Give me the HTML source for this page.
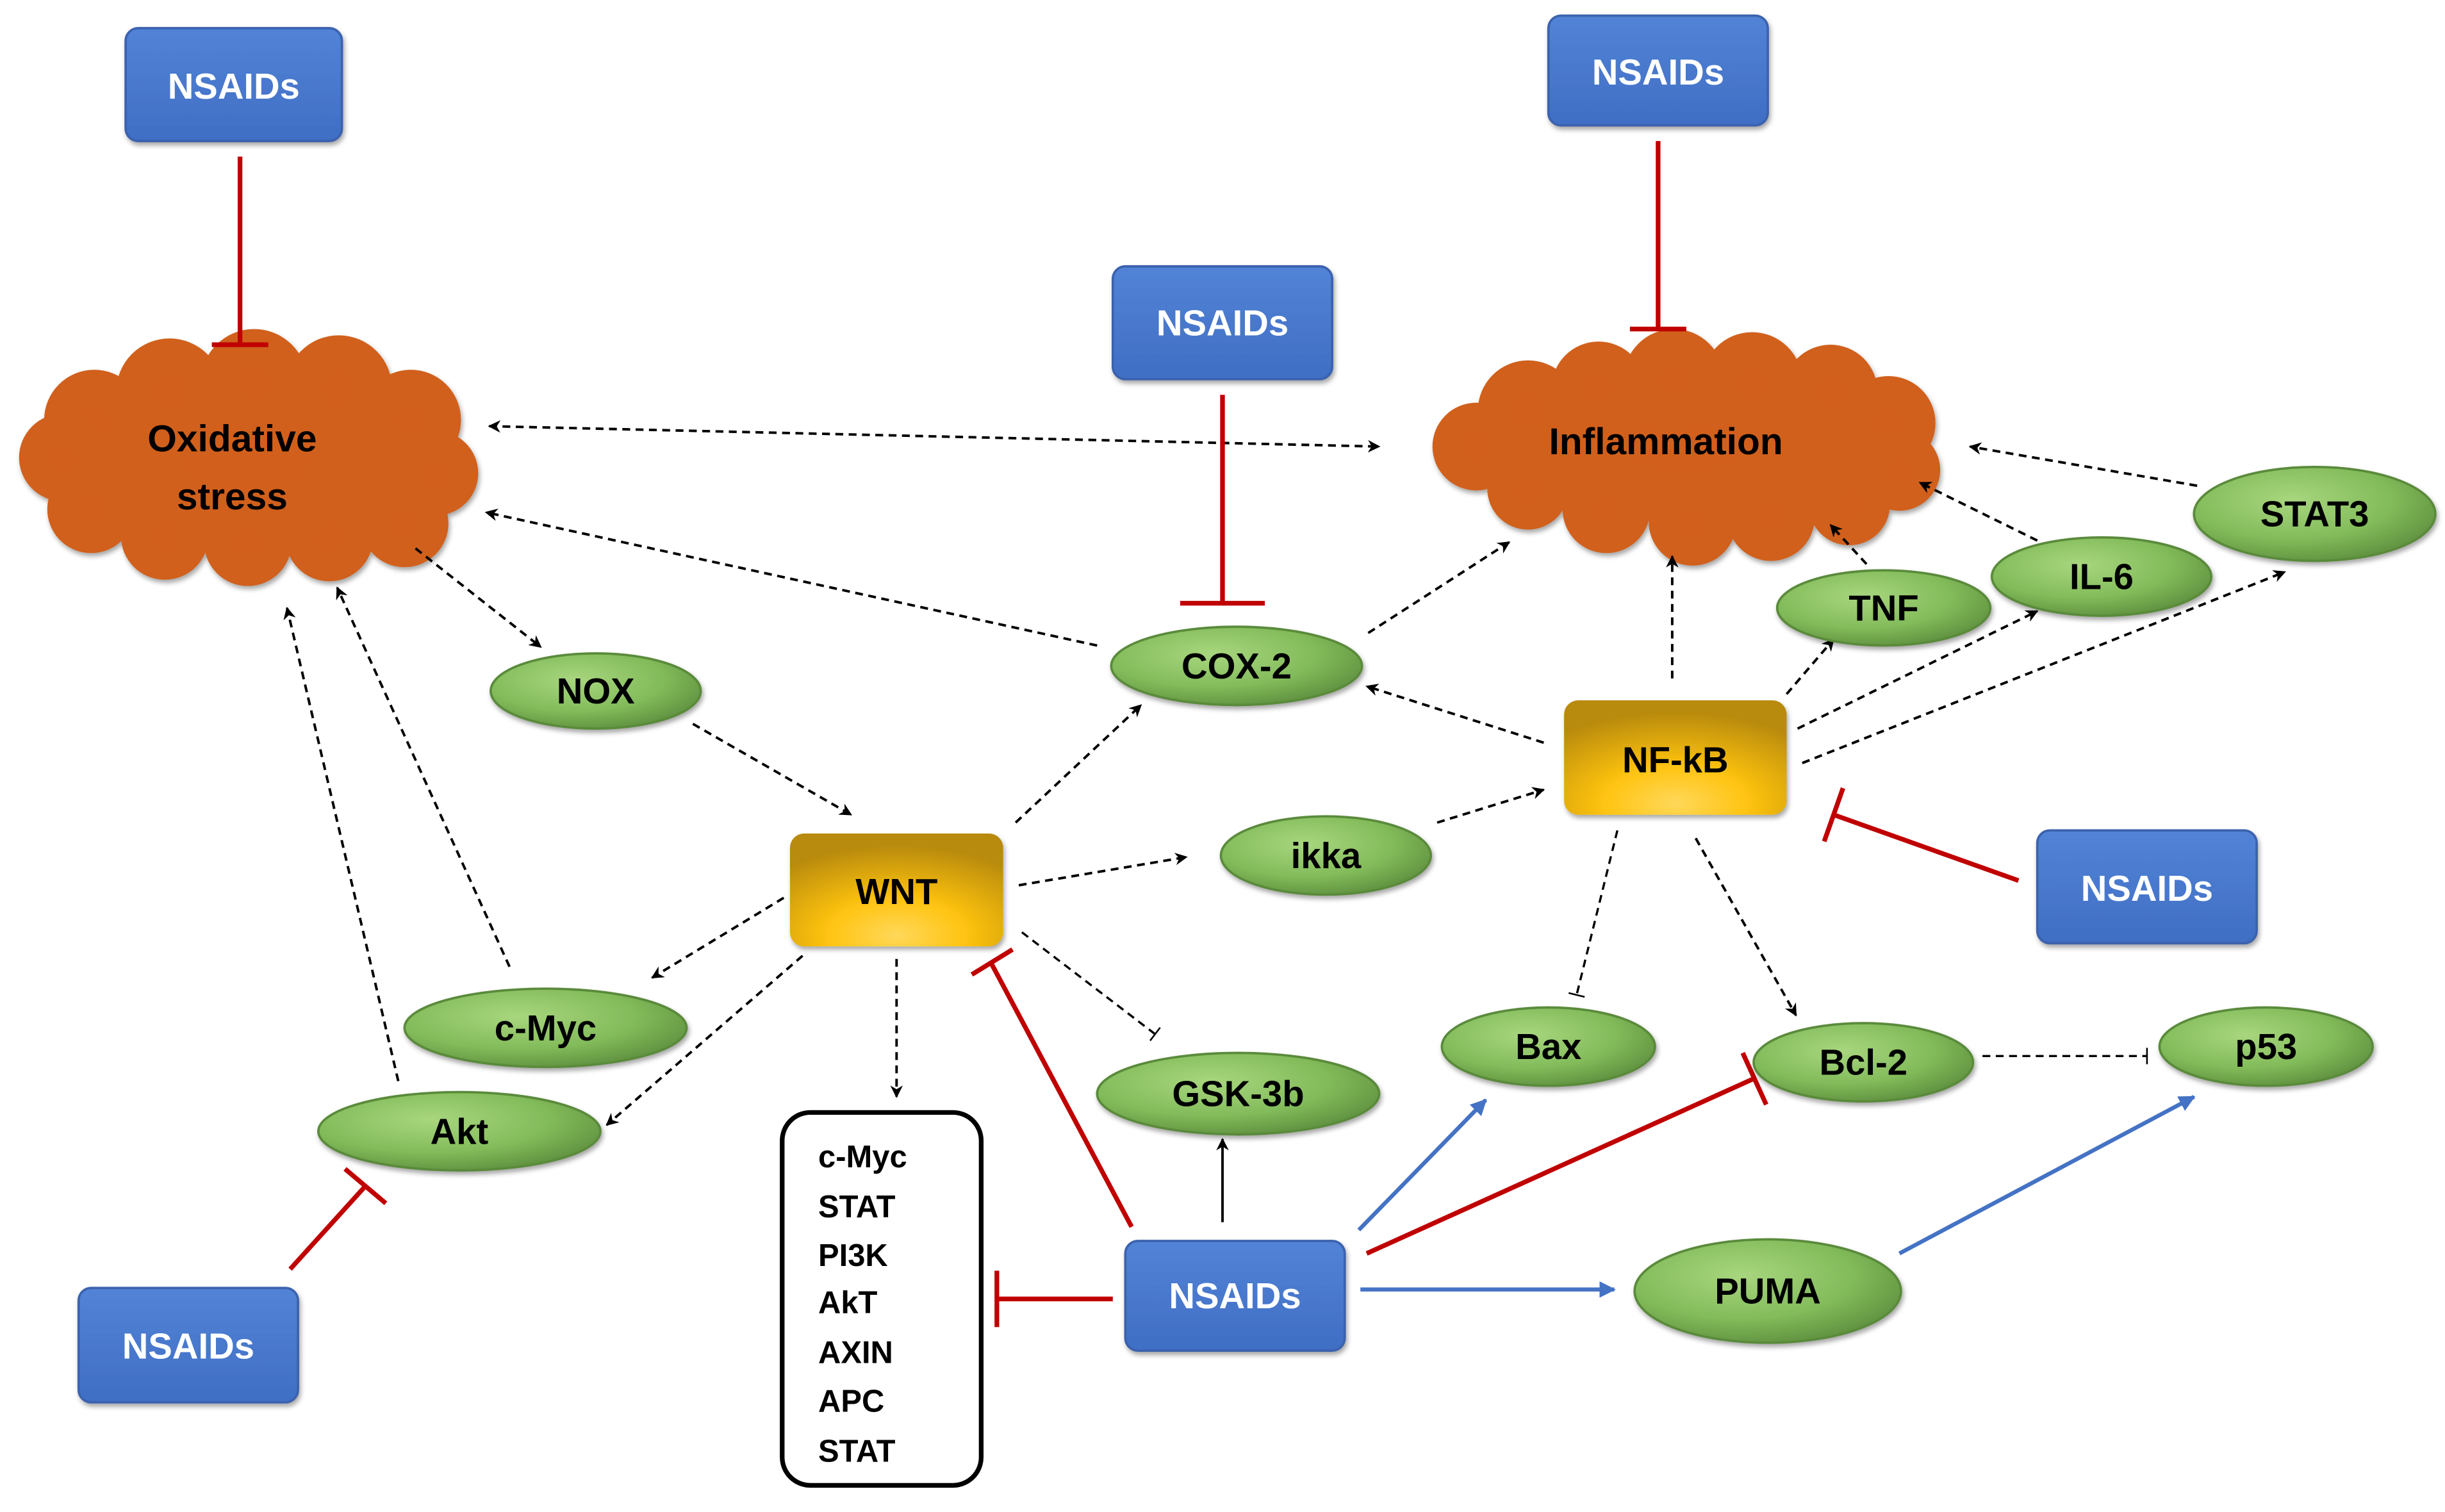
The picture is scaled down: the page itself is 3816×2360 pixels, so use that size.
<!DOCTYPE html>
<html><head><meta charset="utf-8"><style>
html,body{margin:0;padding:0;background:#fff;}
svg{display:block;}
text{font-family:"Liberation Sans",sans-serif;font-weight:bold;}
</style></head><body>
<svg width="3816" height="2360" viewBox="0 0 1560 965" xmlns="http://www.w3.org/2000/svg">
<defs>
<radialGradient id="gr" cx="0.4" cy="0.35" r="0.7">
<stop offset="0" stop-color="#a8d67e"/><stop offset="0.6" stop-color="#82bb5a"/><stop offset="1" stop-color="#5e8f3e"/></radialGradient>
<linearGradient id="bl" x1="0" y1="0" x2="0" y2="1">
<stop offset="0" stop-color="#5283d6"/><stop offset="1" stop-color="#3f6ec4"/></linearGradient>
<radialGradient id="gd" cx="0.5" cy="0.9" r="0.8">
<stop offset="0" stop-color="#ffd85a"/><stop offset="0.4" stop-color="#ffc412"/><stop offset="1" stop-color="#b88a08"/></radialGradient>
<radialGradient id="or" cx="0.5" cy="0.5" r="0.6">
<stop offset="0" stop-color="#d2601a"/><stop offset="0.85" stop-color="#d0601a"/><stop offset="1" stop-color="#b8500f"/></radialGradient>
<marker id="a" viewBox="0 0 10 10" refX="9" refY="5" markerWidth="5" markerHeight="5" orient="auto-start-reverse"><path d="M0,0 L10,5 L0,10 L3,5z" fill="#000"/></marker>
<marker id="ab" viewBox="0 0 10 10" refX="9" refY="5" markerWidth="4" markerHeight="4" orient="auto"><path d="M0,0 L10,5 L0,10z" fill="#4472c4"/></marker>
<marker id="t" viewBox="0 0 4 10" refX="2" refY="5" markerWidth="3" markerHeight="8" orient="auto"><path d="M2,0 L2,10" stroke="#000" stroke-width="1"/></marker>
<filter id="sh"><feDropShadow dx="1" dy="2" stdDeviation="1.5" flood-opacity="0.35"/></filter>
</defs>

<!-- clouds -->
<g fill="url(#or)" filter="url(#sh)">
<ellipse cx="158" cy="295" rx="125" ry="52"/>
<circle cx="60" cy="268" r="32"/><circle cx="108" cy="250" r="34"/><circle cx="162" cy="244" r="34"/><circle cx="216" cy="248" r="34"/><circle cx="262" cy="268" r="32"/><circle cx="278" cy="302" r="27"/><circle cx="258" cy="334" r="28"/><circle cx="210" cy="343" r="28"/><circle cx="158" cy="346" r="28"/><circle cx="105" cy="342" r="28"/><circle cx="58" cy="325" r="28"/><circle cx="40" cy="292" r="28"/>
<ellipse cx="1075" cy="285" rx="135" ry="48"/>
<circle cx="975" cy="262" r="32"/><circle cx="1020" cy="248" r="30"/><circle cx="1068" cy="242" r="32"/><circle cx="1118" cy="244" r="32"/><circle cx="1168" cy="250" r="30"/><circle cx="1205" cy="270" r="30"/><circle cx="1212" cy="300" r="26"/><circle cx="1180" cy="322" r="26"/><circle cx="1130" cy="330" r="28"/><circle cx="1080" cy="333" r="28"/><circle cx="1025" cy="325" r="28"/><circle cx="975" cy="312" r="26"/><circle cx="942" cy="285" r="28"/>
</g>
<text x="148" y="288" font-size="24" text-anchor="middle">Oxidative</text>
<text x="148" y="325" font-size="24" text-anchor="middle">stress</text>
<text x="1063" y="290" font-size="24" text-anchor="middle">Inflammation</text>

<!-- dashed connectors -->
<g stroke="#000" stroke-width="1.6" stroke-dasharray="5,3.5" fill="none" marker-end="url(#a)">
<line x1="312" y1="272" x2="880" y2="285" marker-start="url(#a)"/>
<line x1="700" y1="412" x2="310" y2="327"/>
<line x1="265" y1="350" x2="345" y2="413"/>
<line x1="442" y1="462" x2="543" y2="520"/>
<line x1="648" y1="525" x2="728" y2="450"/>
<line x1="873" y1="404" x2="963" y2="346"/>
<line x1="650" y1="565" x2="757" y2="547"/>
<line x1="917" y1="525" x2="985" y2="504"/>
<line x1="985" y1="474" x2="872" y2="438"/>
<line x1="1067" y1="433" x2="1067" y2="355"/>
<line x1="1140" y1="443" x2="1170" y2="408"/>
<line x1="1147" y1="465" x2="1300" y2="390"/>
<line x1="1150" y1="487" x2="1458" y2="365"/>
<line x1="1191" y1="360" x2="1168" y2="335"/>
<line x1="1300" y1="345" x2="1225" y2="308"/>
<line x1="1402" y1="310" x2="1257" y2="285"/>
<line x1="1082" y1="535" x2="1146" y2="648"/>
<line x1="500" y1="573" x2="416" y2="624"/>
<line x1="512" y1="610" x2="387" y2="718"/>
<line x1="572" y1="612" x2="572" y2="700"/>
<line x1="325" y1="617" x2="215" y2="375"/>
<line x1="254" y1="690" x2="183" y2="388"/>
</g>
<g stroke="#000" stroke-width="1.4" stroke-dasharray="5,3.5" fill="none" marker-end="url(#t)">
<line x1="1032" y1="530" x2="1006" y2="635"/>
<line x1="1265" y1="674" x2="1370" y2="674"/>
<line x1="652" y1="595" x2="737" y2="660"/>
</g>
<line x1="780" y1="780" x2="780" y2="727" stroke="#000" stroke-width="1.6" marker-end="url(#a)"/>

<!-- red inhibitions -->
<g stroke="#c00000" stroke-width="3" fill="none">
<line x1="153" y1="100" x2="153" y2="220"/><line x1="135" y1="220" x2="171" y2="220"/>
<line x1="1058" y1="90" x2="1058" y2="210"/><line x1="1040" y1="210" x2="1076" y2="210"/>
<line x1="780" y1="252" x2="780" y2="385"/><line x1="753" y1="385" x2="807" y2="385"/>
<line x1="1288" y1="562" x2="1170" y2="520"/><line x1="1176" y1="503" x2="1164" y2="537"/>
<line x1="185" y1="810" x2="233" y2="757"/><line x1="220" y1="746" x2="246" y2="768"/>
<line x1="722" y1="783" x2="632" y2="614"/><line x1="620" y1="622" x2="646" y2="606"/>
<line x1="710" y1="829" x2="636" y2="829"/><line x1="636" y1="811" x2="636" y2="847"/>
<line x1="872" y1="800" x2="1120" y2="688"/><line x1="1112" y1="672" x2="1127" y2="705"/>
</g>
<!-- blue arrows -->
<g stroke="#4472c4" stroke-width="2.6" fill="none" marker-end="url(#ab)">
<line x1="867" y1="785" x2="948" y2="702"/>
<line x1="868" y1="823" x2="1030" y2="823"/>
<line x1="1212" y1="800" x2="1400" y2="700"/>
</g>

<!-- list box -->
<rect x="499" y="710" width="127" height="238" rx="18" fill="#fff" stroke="#000" stroke-width="3"/>
<g font-size="20">
<text x="522" y="745">c-Myc</text><text x="522" y="777">STAT</text><text x="522" y="808">PI3K</text><text x="522" y="838">AkT</text><text x="522" y="870">AXIN</text><text x="522" y="901">APC</text><text x="522" y="933">STAT</text>
</g>

<!-- NSAIDs boxes -->
<g filter="url(#sh)" fill="url(#bl)" stroke="#3a62ae" stroke-width="1.5">
<rect x="80" y="18" width="138" height="72" rx="8"/>
<rect x="988" y="10" width="140" height="70" rx="8"/>
<rect x="710" y="170" width="140" height="72" rx="8"/>
<rect x="1300" y="530" width="140" height="72" rx="8"/>
<rect x="50" y="822" width="140" height="73" rx="8"/>
<rect x="718" y="792" width="140" height="70" rx="8"/>
</g>
<g fill="#fff" font-size="23" text-anchor="middle">
<text x="149" y="63">NSAIDs</text><text x="1058" y="54">NSAIDs</text><text x="780" y="214">NSAIDs</text><text x="1370" y="575">NSAIDs</text><text x="120" y="867">NSAIDs</text><text x="788" y="835">NSAIDs</text>
</g>

<!-- gold boxes -->
<g filter="url(#sh)" fill="url(#gd)">
<rect x="504" y="532" width="136" height="72" rx="9"/>
<rect x="998" y="447" width="142" height="73" rx="9"/>
</g>
<text x="572" y="577" font-size="23" text-anchor="middle">WNT</text>
<text x="1069" y="493" font-size="23" text-anchor="middle">NF-kB</text>

<!-- green ellipses -->
<g fill="url(#gr)" stroke="#5a8a3a" stroke-width="1.5" filter="url(#sh)">
<ellipse cx="380" cy="441" rx="67" ry="24"/>
<ellipse cx="789" cy="425" rx="80" ry="25"/>
<ellipse cx="846" cy="546" rx="67" ry="25"/>
<ellipse cx="348" cy="656" rx="90" ry="25"/>
<ellipse cx="293" cy="722" rx="90" ry="25"/>
<ellipse cx="790" cy="698" rx="90" ry="26"/>
<ellipse cx="988" cy="668" rx="68" ry="25"/>
<ellipse cx="1189" cy="678" rx="70" ry="25"/>
<ellipse cx="1446" cy="668" rx="68" ry="25"/>
<ellipse cx="1128" cy="824" rx="85" ry="33"/>
<ellipse cx="1202" cy="388" rx="68" ry="24"/>
<ellipse cx="1341" cy="368" rx="70" ry="25"/>
<ellipse cx="1477" cy="328" rx="77" ry="30"/>
</g>
<g font-size="23" text-anchor="middle">
<text x="380" y="449">NOX</text><text x="789" y="433">COX-2</text><text x="846" y="554">ikka</text>
<text x="348" y="664">c-Myc</text><text x="293" y="730">Akt</text><text x="790" y="706">GSK-3b</text>
<text x="988" y="676">Bax</text><text x="1189" y="686">Bcl-2</text><text x="1446" y="676">p53</text>
<text x="1128" y="832">PUMA</text><text x="1202" y="396">TNF</text><text x="1341" y="376">IL-6</text><text x="1477" y="336">STAT3</text>
</g>
</svg>
</body></html>
